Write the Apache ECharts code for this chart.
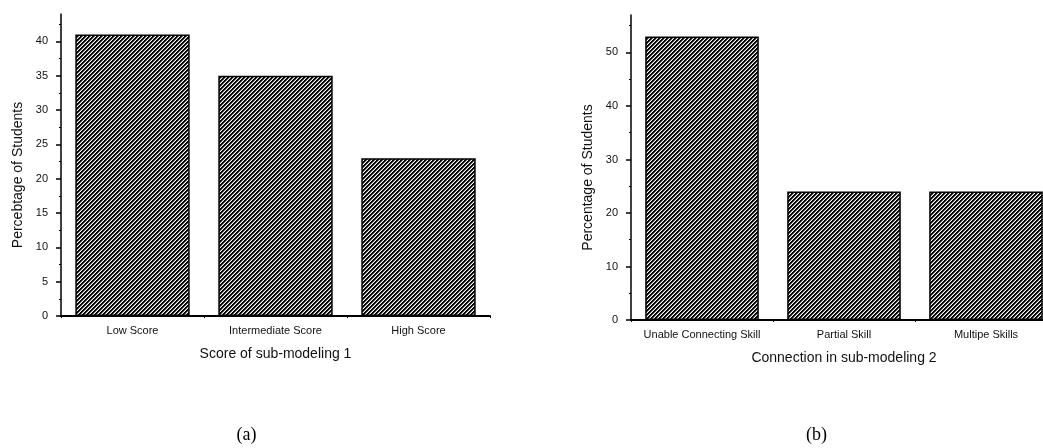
<!DOCTYPE html>
<html>
<head>
<meta charset="utf-8">
<script src="https://cdn.jsdelivr.net/npm/echarts@6/dist/echarts.min.js"></script>
<style>
html,body{margin:0;padding:0;background:#fff;overflow:hidden;width:1043px;height:448px;}
#c{width:1100px;height:448px;}
</style>
</head>
<body>
<div id="c"></div>
<script>
// Panel (a)
const categoriesA = ['Low Score', 'Intermediate Score', 'High Score'];
const valuesA = [41, 35, 23];
const yTicksA = [0, 5, 10, 15, 20, 25, 30, 35, 40];
// Panel (b)
const categoriesB = ['Unable Connecting Skill', 'Partial Skill', 'Multipe Skills'];
const valuesB = [53, 24, 24];
const yTicksB = [0, 10, 20, 30, 40, 50];

function hatch() {
  const s = 4;
  const cv = document.createElement('canvas');
  cv.width = s; cv.height = s;
  const ctx = cv.getContext('2d');
  const img = ctx.createImageData(s, s);
  for (let y = 0; y < s; y++) {
    for (let x = 0; x < s; x++) {
      const k = (x + y) % s;
      const v = (k === 0 || k === 1) ? 0 : (k === 2 ? 120 : 255);
      const i = (y * s + x) * 4;
      img.data[i] = v; img.data[i + 1] = v; img.data[i + 2] = v; img.data[i + 3] = 255;
    }
  }
  ctx.putImageData(img, 0, 0);
  return cv;
}
const pat = { image: hatch(), repeat: 'repeat' };

const font = 'Liberation Sans, Arial, sans-serif';

function xAxis(idx, cats, name) {
  return {
    type: 'category', gridIndex: idx, data: cats,
    name: name, nameLocation: 'middle', nameGap: 31,
    nameTextStyle: { fontFamily: font, fontSize: 14, color: '#111' },
    axisLine: { lineStyle: { color: '#000', width: 2 } },
    axisTick: { show: true, length: 2, lineStyle: { color: '#000', width: 1 } },
    axisLabel: { fontFamily: font, fontSize: 11, color: '#111', margin: 9, interval: 0 }
  };
}
function yAxis(idx, max, interval, ticks, name) {
  return {
    type: 'value', gridIndex: idx, min: 0, max: max, interval: interval,
    name: name, nameLocation: 'middle', nameGap: 36,
    nameTextStyle: { fontFamily: font, fontSize: 14, color: '#111', padding: [0, 20, 0, 0] },
    axisLine: { show: true, lineStyle: { color: '#000', width: 1.5 } },
    axisTick: { show: true, length: 5, customValues: ticks, lineStyle: { color: '#000', width: 1.5 } },
    minorTick: { show: true, splitNumber: 2, length: 2, lineStyle: { color: '#000', width: 1 } },
    axisLabel: { fontFamily: font, fontSize: 11, color: '#111', margin: 13, customValues: ticks },
    splitLine: { show: false }
  };
}

const chart = echarts.init(document.getElementById('c'));
chart.setOption({
  animation: false,
  backgroundColor: '#fff',
  grid: [
    { left: 61, top: 14, width: 429, height: 302 },
    { left: 631, top: 15, width: 426, height: 305 }
  ],
  xAxis: [
    xAxis(0, categoriesA, 'Score of sub-modeling 1'),
    xAxis(1, categoriesB, 'Connection in sub-modeling 2')
  ],
  yAxis: [
    yAxis(0, 44, 5, yTicksA, 'Percebtage of Students'),
    yAxis(1, 57, 10, yTicksB, 'Percentage of Students')
  ],
  series: [
    { type: 'bar', xAxisIndex: 0, yAxisIndex: 0, data: valuesA, barCategoryGap: '20%',
      itemStyle: { color: pat, borderColor: '#000', borderWidth: 1.5 } },
    { type: 'bar', xAxisIndex: 1, yAxisIndex: 1, data: valuesB, barCategoryGap: '20%',
      itemStyle: { color: pat, borderColor: '#000', borderWidth: 1.5 } }
  ],
  graphic: [
    { type: 'text', x: 246.5, y: 435, style: { text: '(a)', font: '18px "Liberation Serif", "Times New Roman", serif', fill: '#000', align: 'center', verticalAlign: 'middle' } },
    { type: 'text', x: 816.5, y: 435, style: { text: '(b)', font: '18px "Liberation Serif", "Times New Roman", serif', fill: '#000', align: 'center', verticalAlign: 'middle' } }
  ]
});
</script>
</body>
</html>
